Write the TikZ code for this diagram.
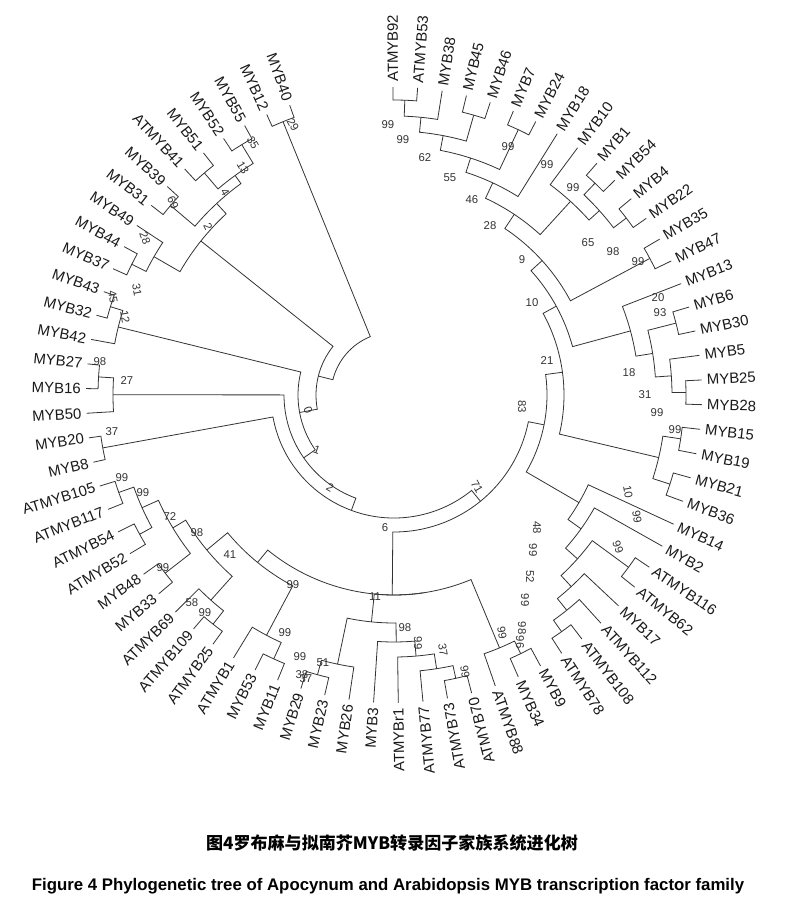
\documentclass[tikz,border=0pt]{standalone}
\usepackage{fontspec}
\setmainfont{Liberation Sans}
\newfontfamily\cjk{Noto Sans CJK SC}
\usetikzlibrary{math}

\tikzset{
  branch/.style={line width=0.6pt, draw=black!80},
  taxon/.style={font=\fontsize{11.2}{11.2}\selectfont, inner sep=0pt, text=black!90},
  boot/.style={font=\fontsize{8.5}{8.5}\selectfont, inner sep=0pt, text=black!80},
}

% leaf: index, label
\newcommand\setleaf[2]{%
  \pgfmathsetmacro\tha{90.2-4.6*#1}%
  \expandafter\xdef\csname tt l#1\endcsname{\tha}%
  \expandafter\xdef\csname rr l#1\endcsname{\leafr}%
  \coordinate (l#1) at (\tha:\leafr);
  \pgfmathtruncatemacro\side{(\tha>-73) ? 1 : 0}%
  \ifnum\side=1
    \node[taxon, anchor=west, rotate=\tha] (t#1) at ({\tha}:{\leafr+5}) {#2};
  \else
    \pgfmathsetmacro\rot{\tha+180}%
    \node[taxon, anchor=east, rotate=\rot] (t#1) at ({\tha}:{\leafr+5}) {#2};
  \fi
}

% inner node: [angle], name, child, child, radius
\newcommand\tnode[5][]{%
  \edef\ca{\csname tt #3\endcsname}\edef\cb{\csname tt #4\endcsname}%
  \edef\ra{\csname rr #3\endcsname}\edef\rb{\csname rr #4\endcsname}%
  \if\relax\detokenize{#1}\relax
    \pgfmathsetmacro\tm{(\ca+\cb)/2}%
  \else
    \edef\tm{#1}%
  \fi
  \expandafter\xdef\csname tt #2\endcsname{\tm}%
  \expandafter\xdef\csname rr #2\endcsname{#5}%
  \draw[branch] (\ca:\ra) -- (\ca:#5) arc[start angle=\ca, end angle=\cb, radius=#5] -- (\cb:\rb);
  \coordinate (#2) at (\tm:#5);
}

\begin{document}
\begin{tikzpicture}[x=0.75pt, y=0.75pt]
  \tikzmath{\leafr = 308;}
  \useasboundingbox (-394,-511) rectangle (395,395);

  % taxa, clockwise from the top
  \foreach \i/\name in {0/ATMYB92, 1/ATMYB53, 2/MYB38, 3/MYB45, 4/MYB46, 5/MYB7,
      6/MYB24, 7/MYB18, 8/MYB10, 9/MYB1, 10/MYB54, 11/MYB4, 12/MYB22, 13/MYB35,
      14/MYB47, 15/MYB13, 16/MYB6, 17/MYB30, 18/MYB5, 19/MYB25, 20/MYB28,
      21/MYB15, 22/MYB19, 23/MYB21, 24/MYB36, 25/MYB14, 26/MYB2, 27/ATMYB116,
      28/ATMYB62, 29/MYB17, 30/ATMYB112, 31/ATMYB108, 32/ATMYB78, 33/MYB9,
      34/MYB34, 35/ATMYB88, 36/ATMYB70, 37/ATMYB73, 38/ATMYB77, 39/ATMYBr1,
      40/MYB3, 41/MYB26, 42/MYB23, 43/MYB29, 44/MYB11, 45/MYB53, 46/ATMYB1,
      47/ATMYB25, 48/ATMYB109, 49/ATMYB69, 50/MYB33, 51/MYB48, 52/ATMYB52,
      53/ATMYB54, 54/ATMYB117, 55/ATMYB105, 56/MYB8, 57/MYB20, 58/MYB50,
      59/MYB16, 60/MYB27, 61/MYB42, 62/MYB32, 63/MYB43, 64/MYB37, 65/MYB44,
      66/MYB49, 67/MYB31, 68/MYB39, 69/ATMYB41, 70/MYB51, 71/MYB52, 72/MYB55,
      73/MYB12, 74/MYB40}
    {\setleaf{\i}{\name}}

  % upper right
  \tnode{a1}{l0}{l1}{295}
  \tnode{a2}{a1}{l2}{279}
  \tnode{a3}{l3}{l4}{291}
  \tnode{a4}{a2}{a3}{264}
  \tnode{a5}{l5}{l6}{293}
  \tnode{a6}{a4}{a5}{249}
  \tnode{a7}{a6}{l7}{234}
  \tnode{b1}{l9}{l10}{292}
  \tnode{b2}{l11}{l12}{292}
  \tnode{b3}{b1}{b2}{276}
  \tnode{b4}{l8}{b3}{262}
  \tnode{a8}{a7}{b4}{217}
  \tnode{b5}{l13}{l14}{290}
  \tnode{a9}{a8}{b5}{200}
  \tnode{c1}{l16}{l17}{291}
  \tnode{c2}{l19}{l20}{292}
  \tnode{c3}{l18}{c2}{278}
  \tnode{c4}{c1}{c3}{262}
  \tnode{c5}{l15}{c4}{245}
  \tnode{a10}{a9}{c5}{185}
  \tnode{d1}{l21}{l22}{290}
  \tnode{d2}{l23}{l24}{290}
  \tnode{d3}{d1}{d2}{272}
  \tnode{k3}{a10}{d3}{170}
  % lower right
  \tnode{e6}{l31}{l32}{290}
  \tnode{e5}{l30}{e6}{276}
  \tnode{e4}{l29}{e5}{261}
  \tnode{e7}{l27}{l28}{291}
  \tnode{e3}{e7}{e4}{246}
  \tnode{e2}{l26}{e3}{230}
  \tnode{e1}{l25}{e2}{214}
  \tnode{k2}{k3}{e1}{153}
  \tnode{f1}{l33}{l34}{288}
  \tnode{f2}{f1}{l35}{274}
  % bottom
  \tnode{p1}{l36}{l37}{290}
  \tnode{p2}{p1}{l38}{277}
  \tnode{p3}{p2}{l39}{262}
  \tnode{p4}{p3}{l40}{247}
  \tnode{q1}{l42}{l43}{290}
  \tnode{q2}{l41}{q1}{275}
  \tnode{q3}{p4}{q2}{228}
  % lower left
  \tnode{r1}{l55}{l54}{292}
  \tnode{r3}{l53}{l52}{290}
  \tnode{r2}{r1}{r3}{276}
  \tnode{r6}{l51}{l50}{290}
  \tnode{r4}{r2}{r6}{258}
  \tnode{r7}{l48}{l47}{292}
  \tnode{r8}{l49}{r7}{275}
  \tnode{r5}{r4}{r8}{243}
  \tnode{s1}{l45}{l44}{290}
  \tnode{s2}{l46}{s1}{272}
  \tnode{r9}{r5}{s2}{216}
  \tnode{n11a}{f2}{q3}{200}
  \tnode[-90.5]{n11}{n11a}{r9}{200}
  % inner rings
  \tnode{j71}{n11}{k2}{137}
  \tnode{y1}{l57}{l56}{296}
  \tnode{z4}{y1}{j71}{123}
  \tnode{x1}{l60}{l59}{296}
  \tnode{x2}{x1}{l58}{281}
  \tnode{z3}{x2}{z4}{110}
  \tnode{w1}{l62}{l63}{297}
  \tnode{w2}{l61}{w1}{284}
  \tnode{z2}{w2}{z3}{96}
  % upper left
  \tnode{v6}{l65}{l64}{293}
  \tnode{v7}{l66}{v6}{277}
  \tnode{v4}{l67}{l68}{293}
  \tnode{v2}{l69}{l70}{292}
  \tnode{v1}{l71}{l72}{293}
  \tnode{v3}{v2}{v1}{271}
  \tnode{v5}{v4}{v3}{261}
  \tnode{v8}{v7}{v5}{247}
  \tnode{z1}{v8}{z2}{78}
  \tnode{u1}{l73}{l74}{295}
  \tnode{z0}{u1}{z1}{63}

  % bootstrap values
  \foreach \x/\y/\t/\r [count=\k] in {388/125/99/0, 403/140/99/0, 425/158/62/0,
      450/178/55/0, 472/200/46/0, 490/226/28/0, 522/260/9/0, 508/147/99/0,
      547/165/99/0, 573/188/99/0, 588/243/65/0, 613/252/98/0, 638/262/99/0,
      532/303/10/0, 547/361/21/0, 658/298/20/0, 660/313/93/0, 629/373/18/0,
      645/395/31/0, 657/413/99/0, 675/430/99/0, 522/407/83/-90, 477/487/71/-60,
      628/492/10/-80, 637/517/99/-80, 618/547/99/-70, 537/528/48/-90,
      533/550/99/-90, 530/577/52/-90, 525/600/99/-90, 522/628/98/-90,
      520/642/96/-90, 502/633/99/-80, 418/643/99/-90, 443/650/37/-80,
      465/672/99/-80, 405/628/98/0, 375/597/11/0, 385/528/6/0, 323/663/51/0,
      302/675/38/0, 306/679/37/0, 300/657/99/0, 285/633/99/0, 293/585/99/0,
      230/555/41/0, 192/603/58/0, 205/613/99/0, 197/533/98/0, 170/517/72/0,
      143/493/99/0, 122/478/99/0, 163/568/99/0, 112/432/37/0, 127/381/27/0,
      100/362/98/0, 125/317/12/-80, 113/297/45/-80, 137/290/31/-80,
      145/238/28/-70, 208/227/2/-65, 173/203/69/-65, 225/192/4/-60,
      243/168/13/-60, 253/143/35/-60, 293/125/29/-60, 308/410/0/-70,
      317/450/1/-20, 330/488/2/-30}
    {\node[boot, rotate=\r] (bs\k) at ({\x-394},{395-\y}) {\t};}

  % captions
  \node[font=\cjk\bfseries\fontsize{12.8}{12.8}\selectfont] (capcn) at (-2,-448)
    {图4罗布麻与拟南芥MYB转录因子家族系统进化树};
  \node[font=\bfseries\fontsize{12.6}{12.6}\selectfont] (capen) at (-6,-491)
    {Figure 4 Phylogenetic tree of Apocynum and Arabidopsis MYB transcription factor family};
\end{tikzpicture}
\end{document}
